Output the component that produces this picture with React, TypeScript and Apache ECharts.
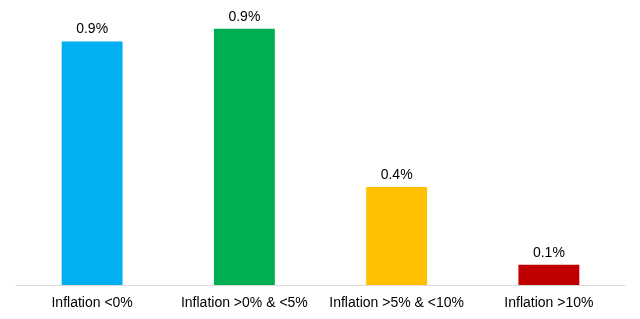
import React, { useEffect, useRef } from "react";
import * as echarts from "echarts";

const categories = ["Inflation <0%", "Inflation >0% & <5%", "Inflation >5% & <10%", "Inflation >10%"];
const values = [0.87, 0.915, 0.35, 0.072];
const colors = ["#00B0F0", "#00B050", "#FFC000", "#C00000"];

export default function App() {
  const ref = useRef<HTMLDivElement>(null);
  useEffect(() => {
    if (!ref.current) return;
    const chart = echarts.init(ref.current, null, { renderer: "svg" });
    chart.setOption({
      animation: false,
      grid: { left: 16, right: 15, top: 5, bottom: 34, containLabel: false },
      xAxis: {
        type: "category",
        data: categories,
        axisLine: { show: true, lineStyle: { color: "#D9D9D9", width: 1 } },
        axisTick: { show: false },
        axisLabel: {
          color: "#000",
          fontSize: 14,
          fontFamily: "Liberation Sans, Arial, sans-serif",
          margin: 10,
          interval: 0,
        },
      },
      yAxis: {
        type: "value",
        min: 0,
        max: 1,
        show: false,
        splitLine: { show: false },
      },
      series: [
        {
          type: "bar",
          barCategoryGap: "60%",
          data: values.map((v, i) => ({ value: v, itemStyle: { color: colors[i] } })),
          label: {
            show: true,
            position: "top",
            distance: 6,
            color: "#000",
            fontSize: 14,
            fontFamily: "Liberation Sans, Arial, sans-serif",
            formatter: (p: any) => `${(Math.round(p.value * 10 + 1e-6) / 10).toFixed(1)}%`,
          },
        },
      ],
    });
    return () => chart.dispose();
  }, []);
  return <div ref={ref} style={{ position: "fixed", left: 0, top: 0, width: 640, height: 319 }} />;
}
